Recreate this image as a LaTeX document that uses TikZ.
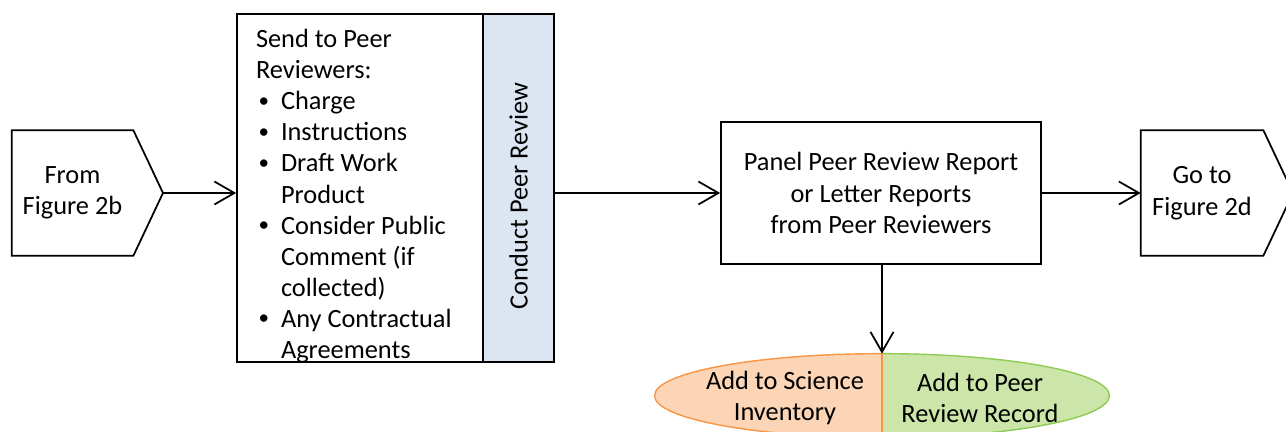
\documentclass[tikz,border=0pt]{standalone}
\usepackage{fontspec}
\setmainfont{Carlito}
\usetikzlibrary{arrows.meta,shapes.geometric}
\definecolor{stripblue}{HTML}{DCE6F2}
\definecolor{invfill}{HTML}{FBD5B5}
\definecolor{invline}{HTML}{F79646}
\definecolor{recfill}{HTML}{CCE5A8}
\definecolor{recline}{HTML}{8FCB54}
\newcommand{\bul}{\makebox[0.5cm][l]{\hspace{0.05cm}\raisebox{0.1em}{\fontsize{12}{12}\selectfont•}}}
\newcommand{\bulgap}{\hspace*{0.5cm}}
\begin{document}
\begin{tikzpicture}[
  x=0.02cm, y=-0.02cm,
  font=\fontsize{15}{17.9}\selectfont,
  box/.style={draw, line width=1pt, align=center, inner sep=0pt},
  txt/.style={align=center, inner sep=0pt},
  edge/.style={line width=1pt},
  arrow/.style={-{Straight Barb[length=0.4cm, width=0.46cm]}, line width=1pt}
]
\useasboundingbox (0,0) rectangle (1286,432);

% off-page connectors
\node[txt, minimum width=2.42cm, minimum height=2.5cm] (from) at (72.5,193) {From\\Figure 2b};
\coordinate (fromtip) at (163,193);
\draw[edge] (from.north west) -- (from.north east) -- (fromtip) -- (from.south east) -- (from.south west) -- cycle;

\node[txt, minimum width=2.44cm, minimum height=2.5cm] (goto) at (1202,193) {Go to\\Figure 2d};
\coordinate (gototip) at (1293,193);
\draw[edge] (goto.north west) -- (goto.north east) -- (gototip) -- (goto.south east) -- (goto.south west) -- cycle;

% send box with the review strip
\node[box, minimum width=4.92cm, minimum height=6.96cm] (send) at (360,188) {%
  \raisebox{-0.29cm}[0pt][0pt]{\parbox[c]{4.16cm}{\fontsize{15}{17.7}\selectfont\raggedright
  Send to Peer\\
  Reviewers:\\
  \bul Charge\\
  \bul Instructions\\
  \bul Draft Work\\
  \bulgap Product\\
  \bul Consider Public\\
  \bulgap Comment (if\\
  \bulgap collected)\\
  \bul Any Contractual\\
  \bulgap Agreements}}};
\node[box, fill=stripblue, rotate=90, minimum width=6.96cm, minimum height=1.42cm] (conduct) at (518.5,188) {Conduct Peer Review\hspace*{0.32cm}};

\node[box, minimum width=6.4cm, minimum height=2.84cm] (panel) at (881,193) {Panel Peer Review Report\\or Letter Reports\\from Peer Reviewers};

% records
\node[ellipse, minimum width=9.1cm, minimum height=1.68cm, inner sep=0pt] (store) at (882,396) {};
\filldraw[fill=invfill, draw=invline, line width=0.8pt] (store.north) arc[start angle=90, end angle=270, x radius=4.55cm, y radius=0.84cm] -- cycle;
\filldraw[fill=recfill, draw=recline, line width=0.8pt] (store.north) arc[start angle=90, end angle=-90, x radius=4.55cm, y radius=0.84cm] -- cycle;
\draw[invline, line width=0.8pt] (store.north) -- (store.south);
\node[txt] (inventory) at (785,398) {Add to Science\\Inventory};
\node[txt] (record) at (980,398) {Add to Peer\\Review Record};

\draw[arrow] (fromtip) -- (fromtip -| send.west);
\draw[arrow] (panel.west -| conduct.south) -- (panel.west);
\draw[arrow] (panel.east) -- (goto.west);
\draw[arrow] (panel.south -| store.north) -- (store.north);
\end{tikzpicture}
\end{document}
